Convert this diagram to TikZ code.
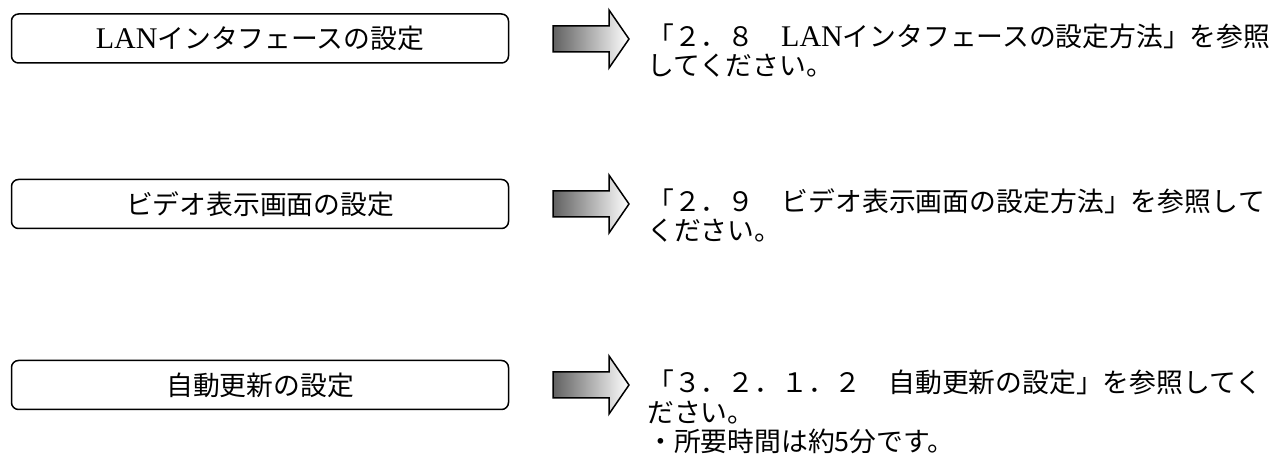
\documentclass[tikz,border=0pt]{standalone}
\usepackage{fontspec}
\setmainfont{Noto Sans CJK JP}
\newfontfamily\lat{Liberation Serif}
\usetikzlibrary{positioning}
\ExplSyntaxOn
\NewDocumentCommand\spreadline{mm}{\hbox to #1{\tl_map_inline:nn{#2}{##1\hfil}\unskip}}
\ExplSyntaxOff
\newcommand\latin[1]{{\lat\fontsize{30}{30}\selectfont #1}}
\tikzset{
  setbox/.style={draw=black, line width=1.5pt, rounded corners=7pt, minimum width=497pt, minimum height=49pt, inner sep=0pt, font=\fontsize{26.8}{30}\selectfont},
  txt/.style={anchor=base west, inner sep=0pt, font=\fontsize{26.8}{30}\selectfont},
  arrowline/.style={draw=black, line width=1.5pt, line join=miter},
  arrowshade/.style={left color=black!62, right color=white}
}
\newcommand\bigarrow[2]{%
  \shade[arrowshade] (#1,#2-13) -- (#1+56,#2-13) -- (#1+56,#2-29) -- (#1+76,#2) -- (#1+56,#2+29) -- (#1+56,#2+13) -- (#1,#2+13) -- cycle;
  \draw[arrowline] (#1,#2-13) -- (#1+56,#2-13) -- (#1+56,#2-29) -- (#1+76,#2) -- (#1+56,#2+29) -- (#1+56,#2+13) -- (#1,#2+13) -- cycle;
}
\begin{document}
\begin{tikzpicture}[x=1pt,y=-1pt]
\useasboundingbox (0,0) rectangle (1270,462);
% row 1
\node[setbox] (b1) at (260,38.5) {\latin{LAN}インタフェースの設定};
\bigarrow{553}{39}
\node[txt] (t1a) at (647,47) {「２．８　\latin{LAN}インタフェースの設定方法」を参照};
\node[txt] (t1b) at (647,76) {してください。};
% row 2
\node[setbox] (b2) at (260,204) {ビデオ表示画面の設定};
\bigarrow{553}{204}
\node[txt] (t2a) at (647,212) {\spreadline{618pt}{「２．９　ビデオ表示画面の設定方法」を参照して}};
\node[txt] (t2b) at (647,241) {ください。};
% row 3
\node[setbox] (b3) at (260,385) {自動更新の設定};
\bigarrow{553}{385}
\node[txt] (t3a) at (647,393) {「３．２．１．２　自動更新の設定」を参照してく};
\node[txt] (t3b) at (647,422) {ださい。};
\node[txt] (t3c) at (647,451) {・所要時間は約5分です。};
\end{tikzpicture}
\end{document}
